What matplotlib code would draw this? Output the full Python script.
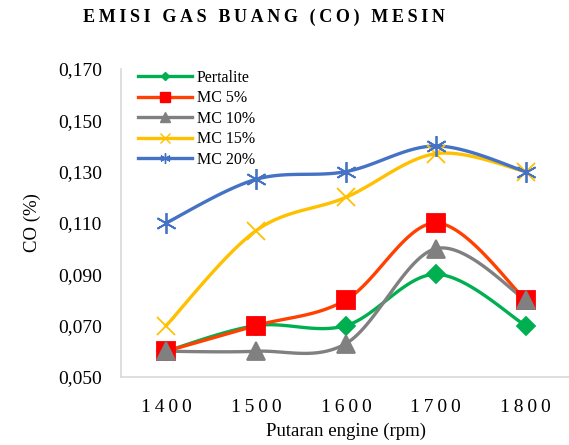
import matplotlib.pyplot as plt
import numpy as np

rpm = ['1400', '1500', '1600', '1700', '1800']
pertalite = [0.060, 0.070, 0.070, 0.090, 0.070]
mc5 = [0.060, 0.070, 0.080, 0.110, 0.080]
mc10 = [0.060, 0.060, 0.063, 0.100, 0.080]
mc15 = [0.070, 0.107, 0.120, 0.137, 0.130]
mc20 = [0.110, 0.127, 0.130, 0.140, 0.130]
yticks = [0.050, 0.070, 0.090, 0.110, 0.130, 0.150, 0.170]

plt.rcParams['font.family'] = ['Liberation Serif', 'DejaVu Serif']


def spaced(s, sep='\u2009'):
    return sep.join(s)


def smooth(x, y, n=30):
    # Catmull-Rom style smoothing, similar to spreadsheet "smoothed line"
    x = np.asarray(x, float)
    y = np.asarray(y, float)
    px = np.concatenate([[x[0]], x, [x[-1]]])
    py = np.concatenate([[y[0]], y, [y[-1]]])
    xs, ys = [], []
    for i in range(1, len(px) - 2):
        p0, p1, p2, p3 = [np.array([px[j], py[j]]) for j in range(i - 1, i + 3)]
        c1 = p1 + (p2 - p0) / 6
        c2 = p2 - (p3 - p1) / 6
        t = np.linspace(0, 1, n)[:, None]
        b = ((1 - t) ** 3) * p1 + 3 * ((1 - t) ** 2) * t * c1 + 3 * (1 - t) * t ** 2 * c2 + t ** 3 * p2
        xs.append(b[:, 0])
        ys.append(b[:, 1])
    return np.concatenate(xs), np.concatenate(ys)


series = [
    ('Pertalite', pertalite, '#00B050', '#00B050', 'D', 9),
    ('MC 5%', mc5, '#FF4000', '#FF0000', 's', 13),
    ('MC 10%', mc10, '#808080', '#808080', '^', 13),
    ('MC 15%', mc15, '#FFC000', '#FFC000', 'x', 13),
    ('MC 20%', mc20, '#4472C4', '#4472C4', (6, 2, 0), 15),
]

fig = plt.figure(figsize=(5.69, 4.45), dpi=100)
ax = fig.add_axes([0.213, 0.153, 0.79, 0.692])

x = np.arange(len(rpm))
for name, vals, lc, mc, mk, ms in series:
    sx, sy = smooth(x, vals)
    ax.plot(sx, sy, color=lc, lw=2.4, solid_capstyle='round', zorder=2)
    ax.plot(x, vals, ls='none', marker=mk, ms=ms, color=mc, mec=mc, mew=1.3, zorder=3)
    ax.plot([], [], color=lc, lw=2.4, marker=mk, ms=ms * 0.5, mfc=mc, mec=mc, label=name)

ax.set_xlim(-0.5, len(rpm) - 0.5)
ax.set_ylim(0.050, 0.170)
ax.set_xticks(x)
ax.set_xticklabels([spaced(r) for r in rpm], fontsize=14)
ax.set_yticks(yticks)
ax.set_yticklabels([f'{v:.3f}'.replace('.', ',') for v in yticks], fontsize=14)
ax.tick_params(length=0, pad=14)
ax.tick_params(axis='x', pad=16)

for side in ['top', 'right']:
    ax.spines[side].set_visible(False)
for side in ['left', 'bottom']:
    ax.spines[side].set_color('#D9D9D9')
    ax.spines[side].set_linewidth(1.2)

ax.set_xlabel('Putaran engine (rpm)', fontsize=13.5, labelpad=5)
ax.set_ylabel('CO (%)', fontsize=13.5, labelpad=12)

fig.text(0.464, 0.962, spaced('EMISI GAS BUANG (CO) MESIN'), ha='center', va='center',
         fontsize=13, fontweight='bold')

ax.legend(loc='upper left', bbox_to_anchor=(0.012, 1.033), frameon=False, fontsize=11.5,
          handlelength=3.4, labelspacing=0.28, handletextpad=0.3, borderaxespad=0.3)

fig.savefig('out.png', dpi=100)
